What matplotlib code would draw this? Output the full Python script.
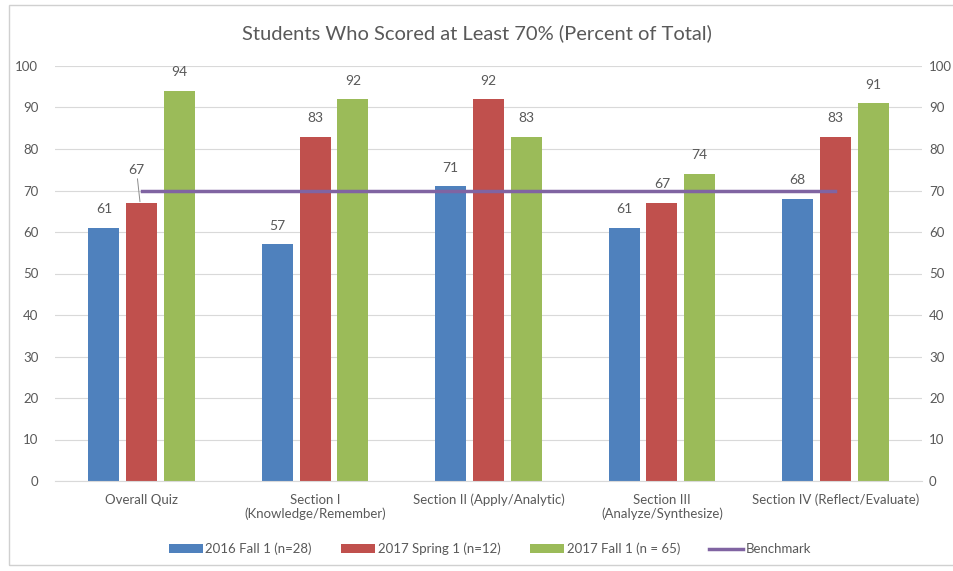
import numpy as np
import matplotlib.pyplot as plt
from matplotlib.patches import Rectangle

plt.rcParams['font.family'] = ['Lato', 'DejaVu Sans']

categories = ['Overall Quiz', 'Section I\n(Knowledge/Remember)', 'Section II (Apply/Analytic)',
              'Section III\n(Analyze/Synthesize)', 'Section IV (Reflect/Evaluate)']
fall_2016 = [61, 57, 71, 61, 68]
spring_2017 = [67, 83, 92, 67, 83]
fall_2017 = [94, 92, 83, 74, 91]
benchmark = [70, 70, 70, 70, 70]
series_names = ['2016 Fall 1 (n=28)', '2017 Spring 1 (n=12)', '2017 Fall 1 (n = 65)']
colors = ['#4F81BD', '#C0504D', '#9BBB59']
bench_color = '#8064A2'
text_color = '#595959'

fig = plt.figure(figsize=(9.54, 5.71), dpi=100)
ax = fig.add_axes([55 / 954, 1 - 481 / 571, 867 / 954, 415 / 571])

x = np.arange(len(categories))
width = 0.178
step = 0.218
all_series = [fall_2016, spring_2017, fall_2017]
for i, vals in enumerate(all_series):
    pos = x + (i - 1) * step
    ax.bar(pos, vals, width, color=colors[i], label=series_names[i], zorder=2)
    for j, (p, v) in enumerate(zip(pos, vals)):
        if i == 1 and j == 0:
            # label moved off the bar with a leader line
            ax.annotate(str(v), xy=(p - 0.01, v + 0.3), xytext=(p - 0.03, v + 6.5),
                        ha='center', va='bottom', fontsize=10, color=text_color,
                        arrowprops=dict(arrowstyle='-', color='#8c8c8c', lw=0.7,
                                        shrinkA=0, shrinkB=0))
        else:
            ax.text(p, v + 3, str(v), ha='center', va='bottom', fontsize=10, color=text_color)

ax.set_ylim(0, 100)
ax.set_xlim(-0.5, len(categories) - 0.5)
ax.set_yticks(range(0, 101, 10))
ax.set_xticks(x)
ax.set_xticklabels(categories, fontsize=9.5, color=text_color)
ax.tick_params(axis='y', length=0, pad=12, labelsize=9.5, labelcolor=text_color)
ax.tick_params(axis='x', length=0, pad=9)
ax.grid(axis='y', color='#d9d9d9', linewidth=0.8, zorder=0)
ax.set_axisbelow(True)
for s in ['top', 'left', 'right']:
    ax.spines[s].set_visible(False)
ax.spines['bottom'].set_color('#d9d9d9')

# secondary axis carries the benchmark line
ax2 = ax.twinx()
ax2.set_ylim(0, 100)
ax2.set_yticks(range(0, 101, 10))
ax2.tick_params(axis='y', length=0, pad=5, labelsize=9.5, labelcolor=text_color)
for s in ax2.spines.values():
    s.set_visible(False)
bline, = ax2.plot(x, benchmark, color=bench_color, linewidth=2.5, label='Benchmark', zorder=3)

fig.text(0.5, 1 - 33 / 571, 'Students Who Scored at Least 70% (Percent of Total)',
         ha='center', va='center', fontsize=14.5, color=text_color)

handles, labels = ax.get_legend_handles_labels()
handles.append(bline)
labels.append('Benchmark')
fig.legend(handles, labels, loc='center', bbox_to_anchor=(490 / 954, 1 - 549 / 571), ncol=4,
           frameon=False, fontsize=9.5, labelcolor=text_color, handlelength=2.6,
           handleheight=0.6, handletextpad=0.2, columnspacing=2.2)

fig.patches.append(Rectangle((9 / 954, 1 - 565 / 571), 1.0, 560 / 571, transform=fig.transFigure,
                             fill=False, edgecolor='#d0d0d0', linewidth=1.0))

fig.savefig('out.png', dpi=100)
